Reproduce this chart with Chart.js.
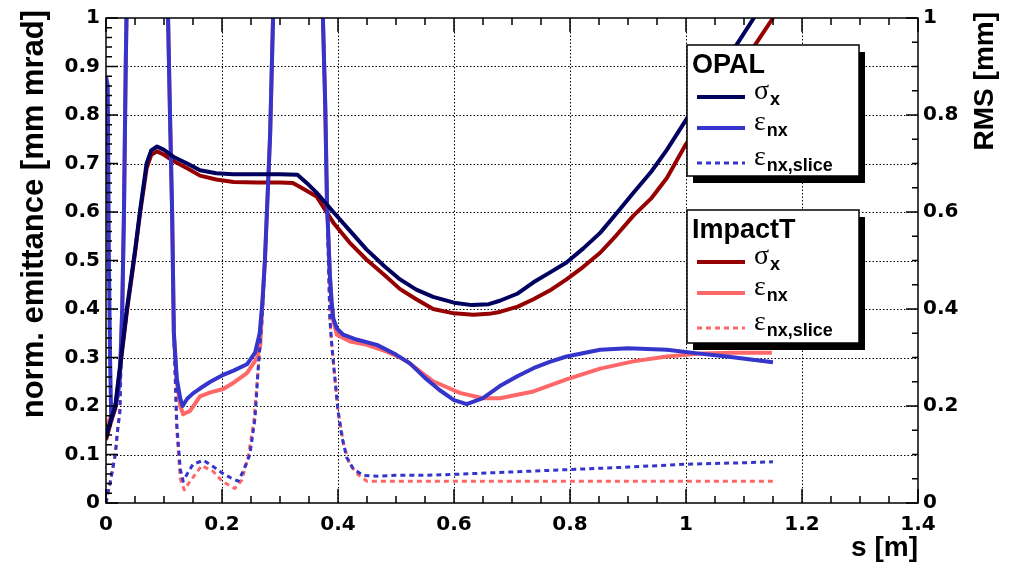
<!DOCTYPE html>
<html>
<head>
<meta charset="utf-8">
<script src="https://cdn.jsdelivr.net/npm/chart.js@4.4.0/dist/chart.umd.min.js"></script>
<style>
  html, body { margin: 0; padding: 0; background: #fff; }
  #wrap { width: 1009px; height: 568px; }
</style>
</head>
<body>
<div id="wrap"><canvas id="chart" width="1009" height="568"></canvas></div>
<script>
// tick labels
const xTicks = [0, 0.2, 0.4, 0.6, 0.8, 1.0, 1.2, 1.4];
const yTicks = [0, 0.1, 0.2, 0.3, 0.4, 0.5, 0.6, 0.7, 0.8, 0.9, 1.0];
const y2Ticks = [0, 0.2, 0.4, 0.6, 0.8, 1.0];

// OPAL sigma_x (RMS, right axis)
const opalSigS = [0, 0.008, 0.016, 0.025, 0.036, 0.05, 0.059, 0.07, 0.078, 0.088,
  0.1, 0.116, 0.14, 0.162, 0.19, 0.219, 0.26, 0.3, 0.33, 0.346,
  0.363, 0.392, 0.42, 0.449, 0.48, 0.507, 0.535, 0.564, 0.6, 0.631,
  0.66, 0.679, 0.71, 0.737, 0.765, 0.794, 0.823, 0.852, 0.88, 0.909,
  0.94, 0.967, 1.0, 1.04, 1.084, 1.117, 1.15];
const opalSigV = [0.135, 0.17, 0.2, 0.29, 0.4, 0.52, 0.605, 0.7, 0.727, 0.735,
  0.728, 0.714, 0.7, 0.686, 0.68, 0.678, 0.678, 0.678, 0.677, 0.66,
  0.64, 0.6, 0.562, 0.523, 0.488, 0.461, 0.44, 0.425, 0.413, 0.408,
  0.41, 0.417, 0.432, 0.455, 0.475, 0.496, 0.525, 0.557, 0.597, 0.639,
  0.683, 0.728, 0.79, 0.865, 0.939, 1.0, 1.06];

// OPAL eps_nx
const opalEpsS = [0, 0.003, 0.005, 0.007, 0.009, 0.012, 0.016, 0.02, 0.024, 0.028,
  0.031, 0.034, 0.036, 0.07, 0.107, 0.11, 0.114, 0.117, 0.122, 0.128,
  0.132, 0.14, 0.15, 0.162, 0.18, 0.2, 0.22, 0.243, 0.257, 0.265,
  0.27, 0.274, 0.283, 0.288, 0.33, 0.374, 0.378, 0.381, 0.386, 0.389,
  0.392, 0.398, 0.409, 0.432, 0.467, 0.5, 0.524, 0.55, 0.575, 0.6,
  0.622, 0.65, 0.679, 0.71, 0.737, 0.765, 0.794, 0.852, 0.9, 0.967,
  1.024, 1.07, 1.15];
const opalEpsV = [0.88, 0.86, 0.5, 0.3, 0.17, 0.19, 0.2, 0.22, 0.26, 0.4,
  0.6, 0.9, 1.05, 2.0, 1.0, 0.82, 0.6, 0.35, 0.257, 0.216,
  0.2, 0.215, 0.226, 0.236, 0.25, 0.263, 0.273, 0.286, 0.31, 0.35,
  0.42, 0.5, 0.76, 1.0, 2.0, 1.0, 0.82, 0.62, 0.47, 0.415,
  0.38, 0.36, 0.347, 0.337, 0.326, 0.306, 0.288, 0.258, 0.233, 0.212,
  0.204, 0.216, 0.241, 0.262, 0.278, 0.291, 0.302, 0.316, 0.319, 0.316,
  0.308, 0.302, 0.29];

// OPAL eps_nx,slice
const opalSliceS = [0, 0.005, 0.01, 0.016, 0.02, 0.024, 0.028, 0.031, 0.034, 0.036,
  0.07, 0.107, 0.11, 0.114, 0.117, 0.122, 0.128, 0.133, 0.14, 0.15,
  0.168, 0.185, 0.2, 0.215, 0.228, 0.237, 0.248, 0.257, 0.262, 0.269,
  0.274, 0.283, 0.288, 0.33, 0.374, 0.378, 0.381, 0.386, 0.389, 0.393,
  0.4, 0.407, 0.415, 0.426, 0.443, 0.47, 0.5, 0.55, 0.6, 0.7,
  0.8, 0.9, 1.0, 1.1, 1.15];
const opalSliceV = [0, 0.03, 0.06, 0.1, 0.15, 0.19, 0.4, 0.6, 0.9, 1.05,
  2.0, 1.0, 0.82, 0.6, 0.35, 0.163, 0.07, 0.045, 0.06, 0.08,
  0.088, 0.075, 0.062, 0.052, 0.045, 0.067, 0.1, 0.175, 0.27, 0.38,
  0.5, 0.76, 1.0, 2.0, 1.0, 0.82, 0.62, 0.38, 0.33, 0.278,
  0.19, 0.135, 0.094, 0.071, 0.057, 0.055, 0.057, 0.057, 0.059, 0.064,
  0.069, 0.074, 0.08, 0.083, 0.085];

// ImpactT sigma_x
const impSigS = [0, 0.008, 0.016, 0.025, 0.036, 0.05, 0.059, 0.07, 0.078, 0.088,
  0.1, 0.116, 0.14, 0.162, 0.19, 0.22, 0.26, 0.3, 0.322, 0.334,
  0.363, 0.392, 0.42, 0.449, 0.48, 0.507, 0.535, 0.564, 0.6, 0.633,
  0.66, 0.679, 0.71, 0.737, 0.765, 0.794, 0.823, 0.852, 0.88, 0.909,
  0.94, 0.967, 1.0, 1.04, 1.084, 1.116, 1.15];
const impSigV = [0.13, 0.165, 0.195, 0.285, 0.395, 0.515, 0.6, 0.69, 0.718, 0.725,
  0.718, 0.705, 0.69, 0.675, 0.667, 0.662, 0.661, 0.661, 0.66, 0.652,
  0.632, 0.578, 0.537, 0.502, 0.47, 0.441, 0.42, 0.4, 0.391, 0.388,
  0.39, 0.394, 0.405, 0.42, 0.438, 0.461, 0.487, 0.516, 0.552, 0.592,
  0.628, 0.67, 0.74, 0.81, 0.88, 0.939, 1.0];

// ImpactT eps_nx
const impEpsS = [0, 0.005, 0.009, 0.012, 0.016, 0.02, 0.024, 0.028, 0.031, 0.034,
  0.036, 0.07, 0.107, 0.11, 0.114, 0.117, 0.122, 0.128, 0.133, 0.145,
  0.162, 0.18, 0.202, 0.22, 0.243, 0.26, 0.266, 0.27, 0.274, 0.283,
  0.288, 0.33, 0.374, 0.378, 0.381, 0.386, 0.389, 0.392, 0.398, 0.421,
  0.45, 0.484, 0.507, 0.519, 0.564, 0.61, 0.65, 0.679, 0.737, 0.794,
  0.852, 0.909, 0.967, 1.024, 1.08, 1.148];
const impEpsV = [0.15, 0.17, 0.18, 0.19, 0.2, 0.22, 0.26, 0.4, 0.6, 0.9,
  1.05, 2.0, 1.0, 0.82, 0.6, 0.35, 0.25, 0.2, 0.183, 0.19,
  0.22, 0.228, 0.235, 0.248, 0.268, 0.298, 0.326, 0.42, 0.5, 0.76,
  1.0, 2.0, 1.0, 0.82, 0.62, 0.47, 0.41, 0.375, 0.347, 0.333,
  0.326, 0.312, 0.3, 0.292, 0.251, 0.227, 0.216, 0.216, 0.23, 0.255,
  0.277, 0.292, 0.302, 0.308, 0.31, 0.31];

// ImpactT eps_nx,slice
const impSliceS = [0, 0.005, 0.01, 0.016, 0.02, 0.024, 0.028, 0.031, 0.034, 0.036,
  0.07, 0.107, 0.11, 0.114, 0.117, 0.122, 0.128, 0.135, 0.145, 0.165,
  0.185, 0.2, 0.222, 0.234, 0.245, 0.255, 0.262, 0.269, 0.274, 0.283,
  0.288, 0.33, 0.374, 0.378, 0.381, 0.386, 0.389, 0.393, 0.4, 0.41,
  0.42, 0.435, 0.45, 0.5, 0.6, 0.7, 0.8, 0.9, 1.0, 1.1,
  1.15];
const impSliceV = [0, 0.03, 0.06, 0.1, 0.15, 0.19, 0.4, 0.6, 0.9, 1.05,
  2.0, 1.0, 0.82, 0.6, 0.35, 0.15, 0.05, 0.027, 0.045, 0.077,
  0.065, 0.045, 0.03, 0.047, 0.094, 0.17, 0.27, 0.38, 0.5, 0.76,
  1.0, 2.0, 1.0, 0.82, 0.62, 0.38, 0.33, 0.278, 0.19, 0.12,
  0.08, 0.058, 0.045, 0.045, 0.045, 0.045, 0.045, 0.045, 0.045, 0.045,
  0.045];

const NAVY = '#00005e';
const BLUE = '#3535cc';
const DARKRED = '#960000';
const PINK = '#ff6868';

const pts = (s, v) => s.map((x, i) => ({ x: x, y: v[i] }));
const fmt = v => String(+Number(v).toFixed(1));
const tickFont = { family: 'DejaVu Sans', size: 20, weight: 'bold' };

function line(label, s, v, color, axis, dashed) {
  return {
    label: label,
    data: pts(s, v),
    yAxisID: axis,
    borderColor: color,
    borderWidth: dashed ? 3 : 4,
    borderDash: dashed ? [5, 4] : [],
    borderJoinStyle: 'round',
    pointRadius: 0,
    fill: false,
    tension: 0
  };
}

// grid, frame, inward tick marks, titles and the two legend boxes
const decor = {
  id: 'decor',
  beforeDatasetsDraw(chart) {
    const { ctx, chartArea: a, scales } = chart;
    ctx.save();
    ctx.strokeStyle = '#000';
    ctx.lineWidth = 1;
    ctx.setLineDash([1.5, 2]);
    xTicks.forEach(v => {
      const px = Math.round(scales.x.getPixelForValue(v)) + 0.5;
      if (px <= a.left + 1 || px >= a.right - 1) return;
      ctx.beginPath(); ctx.moveTo(px, a.top); ctx.lineTo(px, a.bottom); ctx.stroke();
    });
    yTicks.forEach(v => {
      const py = Math.round(scales.y.getPixelForValue(v)) + 0.5;
      if (py <= a.top + 1 || py >= a.bottom - 1) return;
      ctx.beginPath(); ctx.moveTo(a.left, py); ctx.lineTo(a.right, py); ctx.stroke();
    });
    ctx.restore();
  },
  afterDatasetsDraw(chart) {
    const { ctx, chartArea: a, scales } = chart;
    ctx.save();
    ctx.strokeStyle = '#000';
    ctx.setLineDash([]);
    ctx.lineWidth = 1.5;
    ctx.strokeRect(a.left, a.top, a.right - a.left, a.bottom - a.top);
    ctx.beginPath();
    for (let i = 0; i <= 28; i++) {
      const px = scales.x.getPixelForValue(i * 0.05);
      const len = i % 4 === 0 ? 14 : 7;
      ctx.moveTo(px, a.bottom); ctx.lineTo(px, a.bottom - len);
      ctx.moveTo(px, a.top); ctx.lineTo(px, a.top + len);
    }
    for (let i = 0; i <= 50; i++) {
      const py = scales.y.getPixelForValue(i * 0.02);
      const len = i % 5 === 0 ? 12 : 6;
      ctx.moveTo(a.left, py); ctx.lineTo(a.left + len, py);
    }
    for (let i = 0; i <= 20; i++) {
      const py = scales.y2.getPixelForValue(i * 0.05);
      const len = i % 4 === 0 ? 12 : 6;
      ctx.moveTo(a.right, py); ctx.lineTo(a.right - len, py);
    }
    ctx.stroke();
    ctx.restore();
  },
  afterDraw(chart) {
    const { ctx, chartArea: a } = chart;
    ctx.save();
    ctx.fillStyle = '#000';
    ctx.font = 'bold 31px "Liberation Sans", Arial, sans-serif';
    ctx.textAlign = 'right';
    ctx.textBaseline = 'alphabetic';
    // left title
    ctx.save();
    ctx.translate(43, 10);
    ctx.rotate(-Math.PI / 2);
    ctx.fillText('norm. emittance [mm mrad]', 0, 0);
    ctx.restore();
    // right title
    ctx.font = 'bold 28px "Liberation Sans", Arial, sans-serif';
    ctx.save();
    ctx.translate(993, 12);
    ctx.rotate(-Math.PI / 2);
    ctx.fillText('RMS [mm]', 0, 0);
    ctx.restore();
    // x title
    ctx.fillText('s [m]', a.right, 556);

    legendBox(ctx, 687, 45, 172, 131, 'OPAL', [
      [NAVY, false, '\u03c3', 'x'],
      [BLUE, false, '\u03b5', 'nx'],
      [BLUE, true, '\u03b5', 'nx,slice']
    ]);
    legendBox(ctx, 687, 210, 172, 133, 'ImpactT', [
      [DARKRED, false, '\u03c3', 'x'],
      [PINK, false, '\u03b5', 'nx'],
      [PINK, true, '\u03b5', 'nx,slice']
    ]);
    ctx.restore();
  }
};

function legendBox(ctx, x, y, w, h, title, rows) {
  ctx.save();
  ctx.fillStyle = '#000';
  ctx.fillRect(x + 6, y + 7, w, h);
  ctx.fillStyle = '#fff';
  ctx.fillRect(x, y, w, h);
  ctx.strokeStyle = '#000';
  ctx.lineWidth = 1.5;
  ctx.strokeRect(x, y, w, h);
  ctx.fillStyle = '#000';
  ctx.textAlign = 'left';
  ctx.textBaseline = 'alphabetic';
  ctx.font = 'bold 27px "Liberation Sans", Arial, sans-serif';
  ctx.fillText(title, x + 5, y + 28);
  const offs = [52, 83, 118];
  rows.forEach((r, i) => {
    const ly = y + offs[i];
    ctx.strokeStyle = r[0];
    ctx.lineWidth = r[1] ? 3 : 4;
    ctx.setLineDash(r[1] ? [5, 4] : []);
    ctx.beginPath();
    ctx.moveTo(x + 10, ly);
    ctx.lineTo(x + 58, ly);
    ctx.stroke();
    ctx.setLineDash([]);
    ctx.fillStyle = '#000';
    ctx.font = '28px "Liberation Serif", serif';
    ctx.fillText(r[2], x + 67, ly + 2);
    const gw = ctx.measureText(r[2]).width;
    ctx.font = 'bold 18px "Liberation Sans", Arial, sans-serif';
    ctx.fillText(r[3], x + 68 + gw, ly + 8);
  });
  ctx.restore();
}

new Chart(document.getElementById('chart'), {
  type: 'line',
  data: {
    datasets: [
      line('OPAL sigma_x', opalSigS, opalSigV, NAVY, 'y2', false),
      line('OPAL eps_nx', opalEpsS, opalEpsV, BLUE, 'y', false),
      line('OPAL eps_nx,slice', opalSliceS, opalSliceV, BLUE, 'y', true),
      line('ImpactT sigma_x', impSigS, impSigV, DARKRED, 'y2', false),
      line('ImpactT eps_nx', impEpsS, impEpsV, PINK, 'y', false),
      line('ImpactT eps_nx,slice', impSliceS, impSliceV, PINK, 'y', true)
    ]
  },
  options: {
    responsive: false,
    devicePixelRatio: 1,
    animation: false,
    layout: { padding: { top: 13, left: 0, right: 0, bottom: 0 } },
    plugins: { legend: { display: false }, tooltip: { enabled: false } },
    scales: {
      x: {
        type: 'linear', min: 0, max: 1.4,
        afterBuildTicks: s => { s.ticks = xTicks.map(v => ({ value: v })); },
        afterFit: s => { s.height = 65; },
        grid: { display: false, drawTicks: false },
        border: { display: false },
        ticks: { font: tickFont, color: '#000', padding: 10, maxRotation: 0, autoSkip: false, callback: fmt }
      },
      y: {
        type: 'linear', position: 'left', min: 0, max: 1,
        afterBuildTicks: s => { s.ticks = yTicks.map(v => ({ value: v })); },
        afterFit: s => { s.width = 106; },
        grid: { display: false, drawTicks: false },
        border: { display: false },
        ticks: { font: tickFont, color: '#000', padding: 6, autoSkip: false, callback: fmt }
      },
      y2: {
        type: 'linear', position: 'right', min: 0, max: 1,
        afterBuildTicks: s => { s.ticks = y2Ticks.map(v => ({ value: v })); },
        afterFit: s => { s.width = 91; },
        grid: { display: false, drawTicks: false },
        border: { display: false },
        ticks: { font: tickFont, color: '#000', padding: 5, autoSkip: false, callback: fmt }
      }
    }
  },
  plugins: [decor]
});
</script>
</body>
</html>
